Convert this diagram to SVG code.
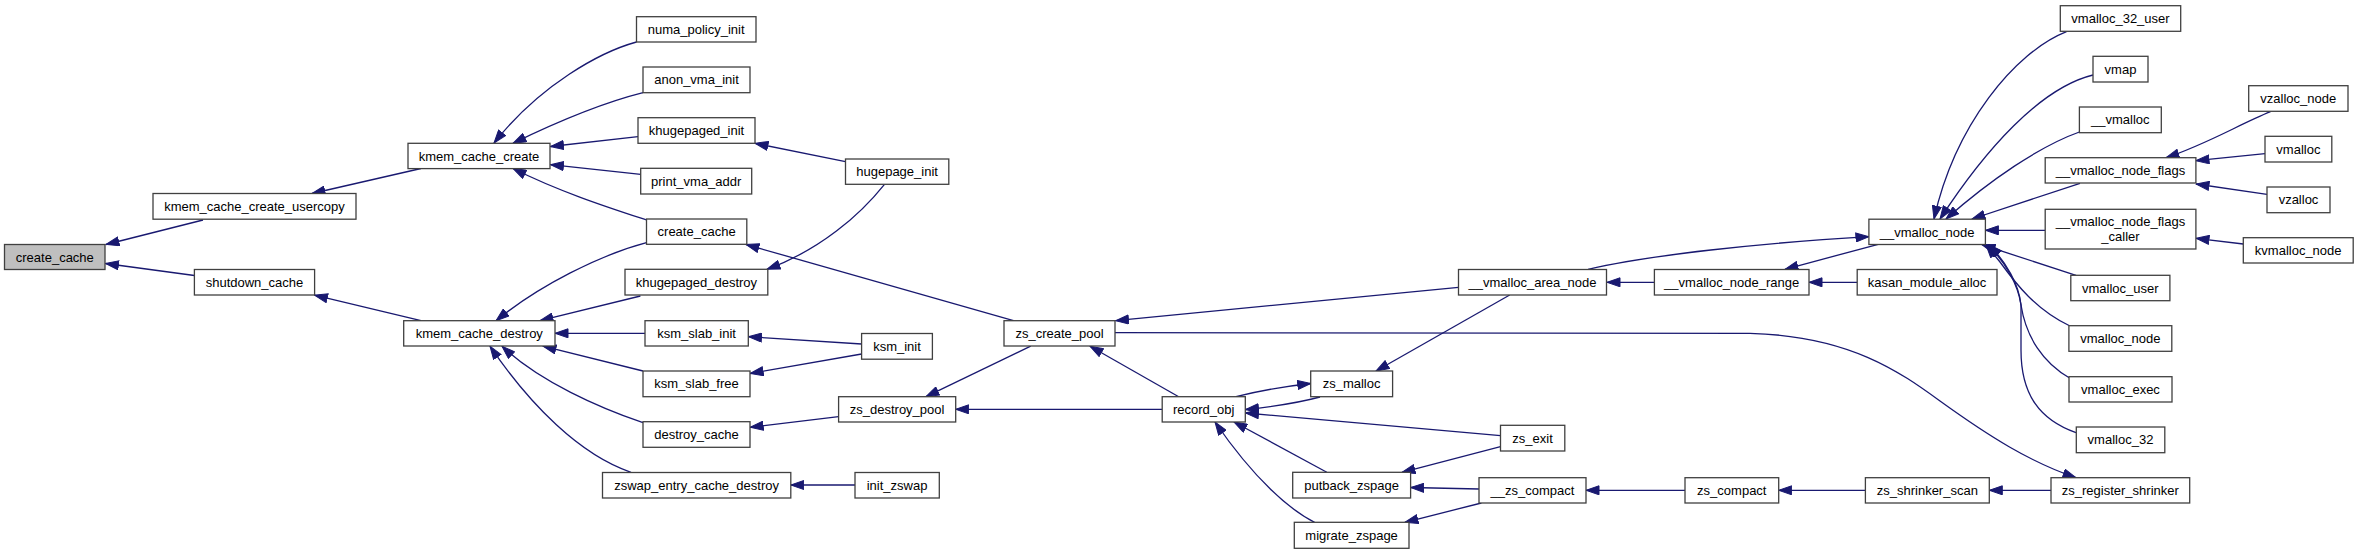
<svg xmlns="http://www.w3.org/2000/svg" width="2359" height="555" viewBox="0 0 2359 555">
<style>
.n rect{fill:#fff;stroke:#404040;stroke-width:1.3}
.r rect{fill:#bfbfbf;stroke:#404040;stroke-width:1.3}
text{font-family:"Liberation Sans",Arial,Helvetica,sans-serif;font-size:13px;text-anchor:middle;fill:#000}
#edges path{fill:none;stroke:#191970;stroke-width:1.3;marker-end:url(#arr)}
</style>
<defs>
<marker id="arr" viewBox="0 0 14 10" refX="13.5" refY="5" markerWidth="14" markerHeight="10" markerUnits="userSpaceOnUse" orient="auto">
<path d="M0.5,0.5 L13.5,5 L0.5,9.5 z" fill="#191970" stroke="#191970" stroke-width="1"/>
</marker>
</defs>
<rect width="2359" height="555" fill="#fff"/>
<g id="edges">
<path d="M203,220 L106,244.5"/>
<path d="M194.4,275.5 L105.5,263.5"/>
<path d="M421,168.5 L312,193.5"/>
<path d="M421,320.7 L314.5,295.2"/>
<path d="M636.5,42 C600,52 540,85 494,143"/>
<path d="M643,92.7 C610,101 565,118 513,143.3"/>
<path d="M638,136.7 L550.5,146.5"/>
<path d="M640.7,174.3 L550.5,164.7"/>
<path d="M646.5,220 C610,208 560,192 513,168.5"/>
<path d="M646.5,242.7 C600,255 540,285 496,320.7"/>
<path d="M640.4,296 L540,320.7"/>
<path d="M645,333.3 L555,333.3"/>
<path d="M643,371 L543,346.2"/>
<path d="M643,422.7 C600,408 540,382 502,346.2"/>
<path d="M631,472.3 C580,455 530,405 490,346.2"/>
<path d="M845.5,161.7 L755,143.3"/>
<path d="M884.5,184.3 C860,215 820,250 767,269.3"/>
<path d="M1013.5,320.7 L746,244.5"/>
<path d="M861.6,344 L748.5,336.7"/>
<path d="M861.6,354 L750.2,373.5"/>
<path d="M838.6,416.7 L750.2,427.3"/>
<path d="M855,485 L790.8,485"/>
<path d="M1030.7,346.2 L926,396.7"/>
<path d="M1458.5,287.3 L1115.5,320.7"/>
<path d="M1115,332.7 L1750,333.3 C1850,336 1900,372 1940,401 C1990,437 2030,462 2076,477.7"/>
<path d="M1178.7,396.7 L1090,346.2"/>
<path d="M1162.2,409.3 L955.7,409.3"/>
<path d="M1236,396.7 Q1270,388 1310.7,383.5"/>
<path d="M1320,397 Q1290,405 1245.5,409.5"/>
<path d="M1509.7,295 L1376,371"/>
<path d="M1500.5,435.7 L1245.5,413"/>
<path d="M1326.8,472.3 L1234,422"/>
<path d="M1314.6,522.3 C1290,510 1255,480 1215,422"/>
<path d="M1500.5,446.7 L1402,472.3"/>
<path d="M1479,489 L1410.6,487.5"/>
<path d="M1481.4,503 L1405,522.3"/>
<path d="M1685,490.3 L1586,490.3"/>
<path d="M1865.4,490.3 L1778.7,490.3"/>
<path d="M2051,490.3 L1989.3,490.3"/>
<path d="M1654.4,282.3 L1607,282.3"/>
<path d="M1857.2,282.3 L1809,282.3"/>
<path d="M1878.2,244.3 L1785,269.3"/>
<path d="M1588,269.3 C1650,255 1760,243 1868.9,236.7"/>
<path d="M2066.5,31.7 C2015,52 1955,125 1934,219"/>
<path d="M2093,75 C2040,88 1985,150 1940,219"/>
<path d="M2079.4,132 C2040,146 1990,180 1946,219"/>
<path d="M2080,183.3 L1972,219"/>
<path d="M2045.2,230.3 L1985.4,230.3"/>
<path d="M2076,275.3 L1982,244.7"/>
<path d="M2070,326 C2036,310 2016,284 2000,262 L1986,244.7"/>
<path d="M2070,378.3 C2043,363 2026,337 2021,305 C2018,284 2005,262 1988,244.7"/>
<path d="M2076,432.7 C2040,420 2021,395 2021,350 L2021,305 C2019,284 2006,262 1989,244.7"/>
<path d="M2270.5,111.7 C2240,124 2205,145 2166,157.7"/>
<path d="M2265,153.7 L2196,160.7"/>
<path d="M2267,194.3 L2196,184"/>
<path d="M2243.3,244 L2196,238.3"/>
</g>
<g id="n_create_cache" class="r"><rect x="4.5" y="244.5" width="100.5" height="25"/><text x="54.8" y="261.6">create_cache</text></g>
<g id="n_kmem_cache_create_usercopy" class="n"><rect x="153" y="193.5" width="203" height="25.7"/><text x="254.5" y="210.9">kmem_cache_create_usercopy</text></g>
<g id="n_shutdown_cache" class="n"><rect x="194.4" y="269.5" width="120.2" height="25.5"/><text x="254.5" y="286.8">shutdown_cache</text></g>
<g id="n_kmem_cache_create" class="n"><rect x="408" y="143.3" width="142" height="25.3"/><text x="479" y="160.5">kmem_cache_create</text></g>
<g id="n_kmem_cache_destroy" class="n"><rect x="403.7" y="320.7" width="151.3" height="25.3"/><text x="479.3" y="338">kmem_cache_destroy</text></g>
<g id="n_numa_policy_init" class="n"><rect x="636.5" y="16.7" width="119.5" height="25.3"/><text x="696.2" y="34">numa_policy_init</text></g>
<g id="n_anon_vma_init" class="n"><rect x="643" y="67" width="107" height="25.7"/><text x="696.5" y="84.4">anon_vma_init</text></g>
<g id="n_khugepaged_init" class="n"><rect x="638" y="117.7" width="117" height="25.6"/><text x="696.5" y="135.1">khugepaged_init</text></g>
<g id="n_print_vma_addr" class="n"><rect x="640.7" y="168.3" width="111" height="25.7"/><text x="696.2" y="185.7">print_vma_addr</text></g>
<g id="n_create_cache2" class="n"><rect x="646.5" y="219" width="100.3" height="25.3"/><text x="696.6" y="236.3">create_cache</text></g>
<g id="n_khugepaged_destroy" class="n"><rect x="625" y="269.3" width="142.8" height="25.7"/><text x="696.4" y="286.7">khugepaged_destroy</text></g>
<g id="n_ksm_slab_init" class="n"><rect x="645" y="320.7" width="103.3" height="25.3"/><text x="696.6" y="338">ksm_slab_init</text></g>
<g id="n_ksm_slab_free" class="n"><rect x="643" y="371" width="107" height="25.7"/><text x="696.5" y="388.4">ksm_slab_free</text></g>
<g id="n_destroy_cache" class="n"><rect x="643" y="421.7" width="107" height="25.6"/><text x="696.5" y="439.1">destroy_cache</text></g>
<g id="n_zswap_entry_cache_destroy" class="n"><rect x="602.5" y="472.5" width="188.3" height="25.5"/><text x="696.6" y="489.8">zswap_entry_cache_destroy</text></g>
<g id="n_hugepage_init" class="n"><rect x="845.5" y="159" width="103.3" height="25.3"/><text x="897.1" y="176.3">hugepage_init</text></g>
<g id="n_ksm_init" class="n"><rect x="861.6" y="333.5" width="70.8" height="25.7"/><text x="897" y="350.9">ksm_init</text></g>
<g id="n_zs_destroy_pool" class="n"><rect x="838.6" y="396.7" width="117.1" height="25.3"/><text x="897.1" y="414">zs_destroy_pool</text></g>
<g id="n_init_zswap" class="n"><rect x="855" y="472.5" width="84.3" height="25.5"/><text x="897.1" y="489.8">init_zswap</text></g>
<g id="n_zs_create_pool" class="n"><rect x="1004" y="320.7" width="111" height="25.3"/><text x="1059.5" y="338">zs_create_pool</text></g>
<g id="n_record_obj" class="n"><rect x="1162.2" y="396.7" width="83.1" height="25.3"/><text x="1203.7" y="414">record_obj</text></g>
<g id="n_zs_malloc" class="n"><rect x="1310.7" y="371" width="81.9" height="25.7"/><text x="1351.6" y="388.4">zs_malloc</text></g>
<g id="n_putback_zspage" class="n"><rect x="1292.7" y="472.3" width="117.9" height="25.7"/><text x="1351.6" y="489.7">putback_zspage</text></g>
<g id="n_migrate_zspage" class="n"><rect x="1294.3" y="522.3" width="114.7" height="26"/><text x="1351.6" y="539.9">migrate_zspage</text></g>
<g id="n_zs_exit" class="n"><rect x="1500.5" y="425.3" width="64.3" height="25.7"/><text x="1532.6" y="442.7">zs_exit</text></g>
<g id="n___zs_compact" class="n"><rect x="1479" y="477.7" width="107" height="25.3"/><text x="1532.5" y="495">__zs_compact</text></g>
<g id="n___vmalloc_area_node" class="n"><rect x="1458.5" y="269.5" width="148" height="25.5"/><text x="1532.5" y="286.8">__vmalloc_area_node</text></g>
<g id="n___vmalloc_node_range" class="n"><rect x="1654.4" y="269.5" width="154.6" height="25.5"/><text x="1731.7" y="286.8">__vmalloc_node_range</text></g>
<g id="n_zs_compact" class="n"><rect x="1685" y="477.7" width="93.7" height="25.3"/><text x="1731.8" y="495">zs_compact</text></g>
<g id="n___vmalloc_node" class="n"><rect x="1868.9" y="219.2" width="116.5" height="25.3"/><text x="1927.1" y="236.5">__vmalloc_node</text></g>
<g id="n_kasan_module_alloc" class="n"><rect x="1857.2" y="269.5" width="139.8" height="25.5"/><text x="1927.1" y="286.8">kasan_module_alloc</text></g>
<g id="n_zs_shrinker_scan" class="n"><rect x="1865.4" y="477.7" width="123.9" height="25.3"/><text x="1927.3" y="495">zs_shrinker_scan</text></g>
<g id="n_vmalloc_32_user" class="n"><rect x="2060.3" y="5.7" width="120.4" height="25.6"/><text x="2120.5" y="23.1">vmalloc_32_user</text></g>
<g id="n_vmap" class="n"><rect x="2093" y="56.3" width="55" height="25.7"/><text x="2120.5" y="73.7">vmap</text></g>
<g id="n___vmalloc" class="n"><rect x="2079.4" y="107" width="81.9" height="25.7"/><text x="2120.3" y="124.4">__vmalloc</text></g>
<g id="n___vmalloc_node_flags" class="n"><rect x="2045.2" y="157.7" width="150.7" height="25.3"/><text x="2120.5" y="175">__vmalloc_node_flags</text></g>
<g id="n___vmalloc_node_flags_caller" class="n"><rect x="2045.2" y="209.3" width="150.7" height="39.7"/><text x="2120.5" y="225.5">__vmalloc_node_flags</text><text x="2120.5" y="240.5">_caller</text></g>
<g id="n_vmalloc_user" class="n"><rect x="2070.8" y="275.3" width="99.1" height="25.4"/><text x="2120.3" y="292.6">vmalloc_user</text></g>
<g id="n_vmalloc_node" class="n"><rect x="2068.9" y="325.7" width="102.9" height="25.6"/><text x="2120.3" y="343.1">vmalloc_node</text></g>
<g id="n_vmalloc_exec" class="n"><rect x="2069" y="376.7" width="103" height="25.3"/><text x="2120.5" y="394">vmalloc_exec</text></g>
<g id="n_vmalloc_32" class="n"><rect x="2076.3" y="427" width="88.5" height="25.7"/><text x="2120.5" y="444.4">vmalloc_32</text></g>
<g id="n_zs_register_shrinker" class="n"><rect x="2051" y="477.7" width="138.7" height="25.3"/><text x="2120.3" y="495">zs_register_shrinker</text></g>
<g id="n_vzalloc_node" class="n"><rect x="2248.7" y="85.7" width="99.3" height="25.6"/><text x="2298.3" y="103.1">vzalloc_node</text></g>
<g id="n_vmalloc" class="n"><rect x="2265" y="136.3" width="66.8" height="25.7"/><text x="2298.4" y="153.7">vmalloc</text></g>
<g id="n_vzalloc" class="n"><rect x="2267" y="187" width="63" height="25.7"/><text x="2298.5" y="204.4">vzalloc</text></g>
<g id="n_kvmalloc_node" class="n"><rect x="2243.3" y="237.7" width="109.9" height="25.3"/><text x="2298.2" y="255">kvmalloc_node</text></g>
</svg>
